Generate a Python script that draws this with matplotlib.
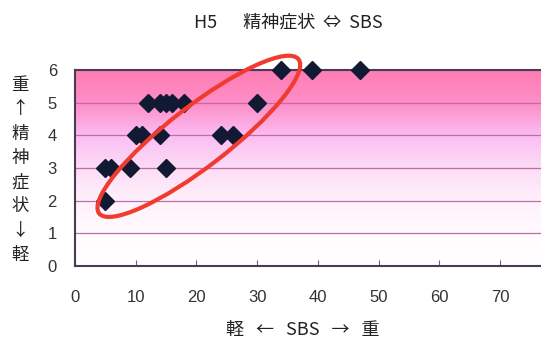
import numpy as np
import matplotlib
matplotlib.use("Agg")
from matplotlib import pyplot as plt
from matplotlib.colors import LinearSegmentedColormap
from matplotlib.patches import Ellipse
from matplotlib.transforms import ScaledTranslation

plt.rcParams['font.family'] = ['Noto Sans CJK JP', 'DejaVu Sans']

# datos
sbs = [34, 39, 47, 12, 14, 15, 16, 18, 30, 10, 11, 14, 24, 26, 5, 6, 9, 15, 5]
seishin = [6, 6, 6, 5, 5, 5, 5, 5, 5, 4, 4, 4, 4, 4, 3, 3, 3, 3, 2]
xticks = [0, 10, 20, 30, 40, 50, 60, 70]
yticks = [0, 1, 2, 3, 4, 5, 6]

fig = plt.figure(figsize=(5.41, 3.47), dpi=100)
ax = fig.add_axes([75 / 541, 81 / 347, 466 / 541, 196 / 347])
xmax = 466 / 6.07
ax.set_xlim(0, xmax)
ax.set_ylim(0, 6)

# fondo degradado
cmap = LinearSegmentedColormap.from_list("rosa", [
    (0.0, "#ffffff"), (0.17, "#fffbfe"), (0.33, "#fff1fb"),
    (0.5, "#fddcf6"), (0.67, "#fbbcf2"), (0.83, "#fd8ec8"), (1.0, "#ff7db3")])
grad = np.linspace(0, 1, 256).reshape(-1, 1)
ax.imshow(grad, extent=[0, xmax, 0, 6], origin="lower", aspect="auto", cmap=cmap, zorder=0)

for yv in yticks[1:]:
    ax.axhline(yv, color="#c06aa6", lw=0.9, zorder=1)

ax.plot(sbs, seishin, "D", color="#121a33", ms=9.5, zorder=3, clip_on=False)

# elipse roja
trans = fig.dpi_scale_trans + ScaledTranslation(20.4, 3.97, ax.transData)
ell = Ellipse((0, 0), 2.52, 0.6, angle=37.7, fill=False, ec="#f03c30", lw=3,
              transform=trans, zorder=4, clip_on=False)
ax.add_patch(ell)

ax.set_xticks(xticks)
ax.set_yticks(yticks)
ax.tick_params(axis="x", direction="in", length=4, pad=17, labelsize=12, colors="#666666", labelcolor="#333333")
ax.tick_params(axis="y", length=0, pad=13, labelsize=12, labelcolor="#333333")
for lab in ax.get_xticklabels() + ax.get_yticklabels():
    lab.set_family(['Liberation Sans', 'DejaVu Sans'])

for s in ["left", "bottom", "top"]:
    ax.spines[s].set_color("#4a3a55")
    ax.spines[s].set_linewidth(1.5)
ax.spines["right"].set_visible(False)

fig.text(288 / 541, 1 - 22 / 347, "H5　  精神症状  ⇔  SBS", ha="center", va="center", fontsize=13, color="#222222")
fig.text(303 / 541, 1 - 330 / 347, "軽   ←   SBS   →   重", ha="center", va="center", fontsize=13, color="#222222")
fig.text(20 / 541, 1 - 170 / 347, "\n".join("重↑精神症状↓軽"), ha="center", va="center",
         fontsize=12.5, color="#222222", linespacing=1.45)

plt.savefig("out.png", dpi=100)
